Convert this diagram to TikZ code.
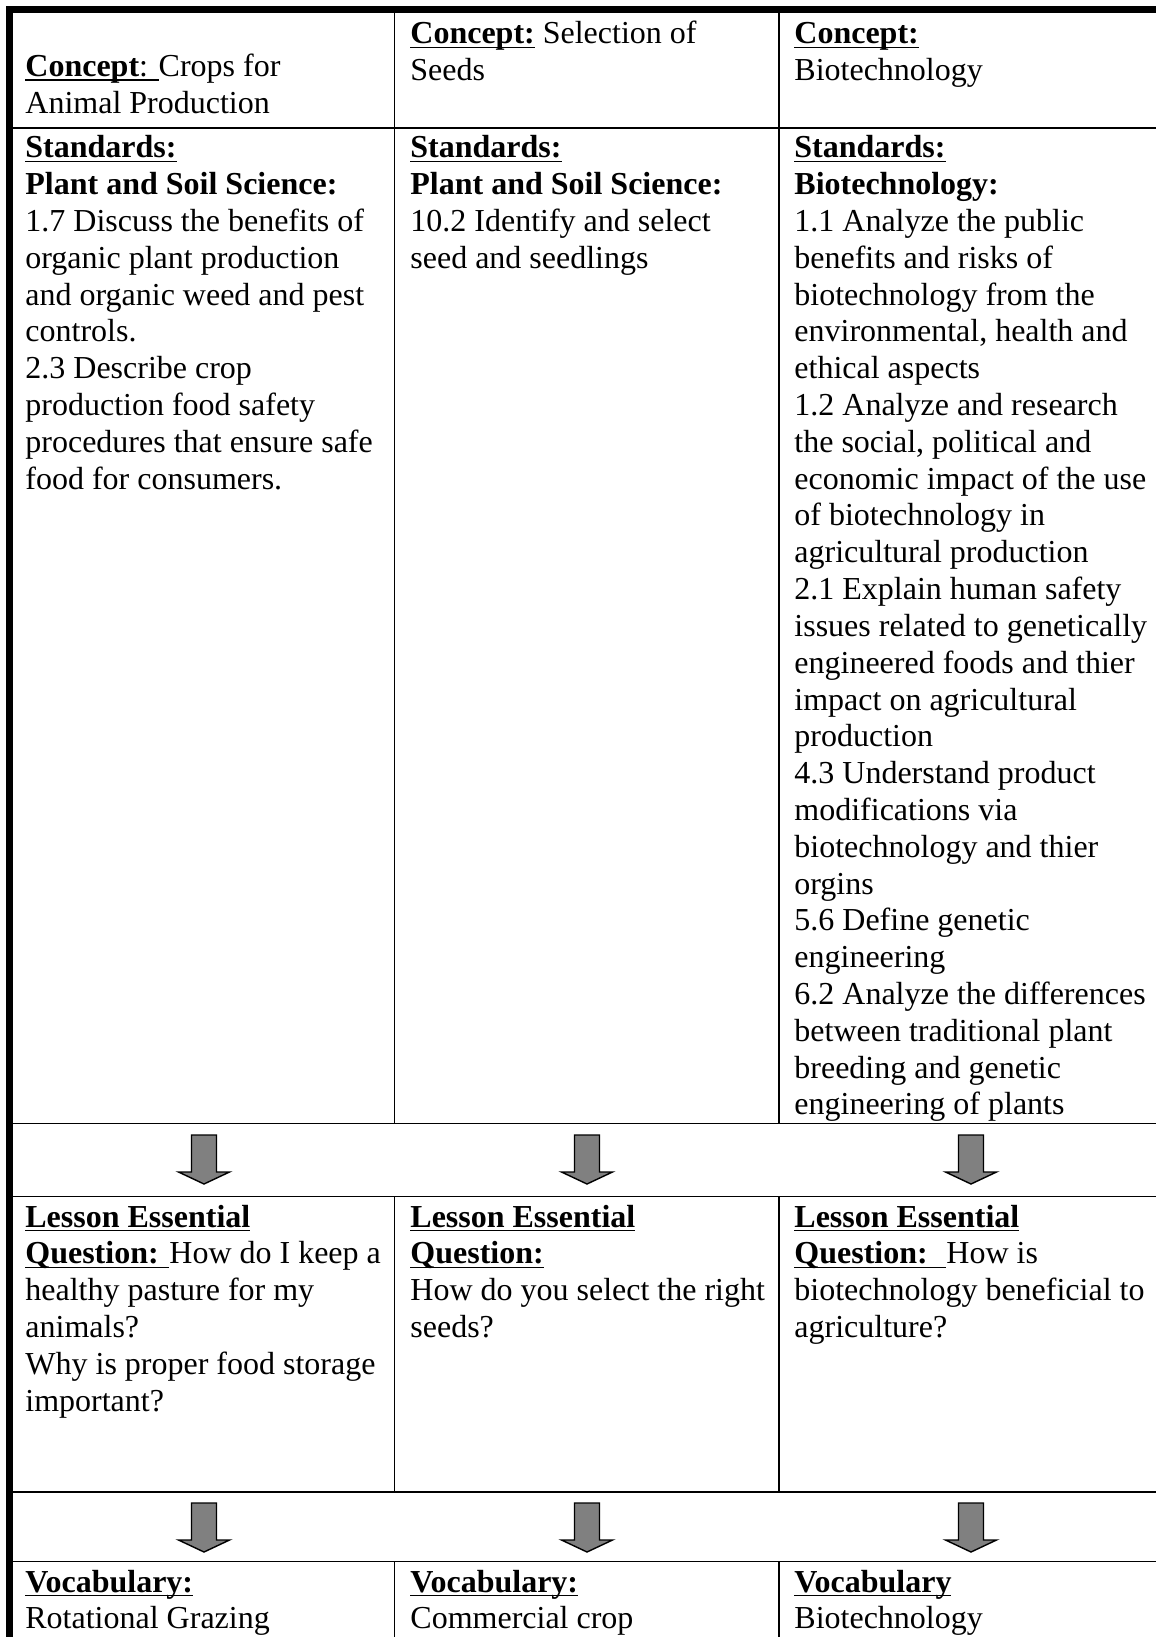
\documentclass[tikz,border=0pt]{standalone}
\usepackage{fontspec}
\setmainfont{Liberation Serif}
\newsavebox\undlbox
\newcommand\undl[1]{\sbox\undlbox{#1}\rlap{\rule[-2.2pt]{\wd\undlbox}{0.85pt}}\usebox\undlbox}
\newcommand\celltext[1]{\begin{tabular}[t]{@{}l@{}}#1\end{tabular}}
\begin{document}
\begin{tikzpicture}[x=0.5pt, y=-0.5pt,
    cell/.style={
        anchor=base west,
        inner sep=0pt,
        font=\fontsize{16}{18.4}\selectfont
    },
    gridline/.style={line width=0.85pt},
    blockarrow/.style={
        draw=black,
        line width=0.7pt,
        fill=gray,
        line join=miter
    }
]

% --- Page and frame ---
\fill[white] (0,0) rectangle (1156,1637);
\useasboundingbox (0,0) rectangle (1156,1637);
\fill[black] (6,6) rectangle (13,1637);
\fill[black] (6,6) rectangle (1156,13);

%%%%%%%%%%%%%%%%%%%%%%%%
% Grid
%%%%%%%%%%%%%%%%%%%%%%%%

\foreach \ry in {128,1123.5,1196.5,1492,1561.5}
    \draw[gridline] (13,\ry) -- (1156,\ry);
\foreach \cx in {394.5,779} {
    \draw[gridline] (\cx,13) -- (\cx,1123.5);
    \draw[gridline] (\cx,1196.5) -- (\cx,1492);
    \draw[gridline] (\cx,1561.5) -- (\cx,1637);
}

%%%%%%%%%%%%%%%%%%%%%%%%
% Concepts
%%%%%%%%%%%%%%%%%%%%%%%%

\node[cell] (con1) at (25,76.5) {\celltext{\undl{\textbf{Concept}: }Crops for\\Animal Production}};
\node[cell] (con2) at (410,44) {\celltext{\undl{\textbf{Concept:}} Selection of\\Seeds}};
\node[cell] (con3) at (794,44) {\celltext{\undl{\textbf{Concept:}}\\Biotechnology}};

%%%%%%%%%%%%%%%%%%%%%%%%
% Standards
%%%%%%%%%%%%%%%%%%%%%%%%

\node[cell] (std1) at (25,158) {\celltext{\undl{\textbf{Standards:}}\\
    \textbf{Plant and Soil Science:}\\
    1.7 Discuss the benefits of\\
    organic plant production\\
    and organic weed and pest\\
    controls.\\
    2.3 Describe crop\\
    production food safety\\
    procedures that ensure safe\\
    food for consumers.}};
\node[cell] (std2) at (410,158) {\celltext{\undl{\textbf{Standards:}}\\
    \textbf{Plant and Soil Science:}\\
    10.2 Identify and select\\
    seed and seedlings}};
\node[cell] (std3) at (794,158) {\celltext{\undl{\textbf{Standards:}}\\
    \textbf{Biotechnology:}\\
    1.1 Analyze the public\\
    benefits and risks of\\
    biotechnology from the\\
    environmental, health and\\
    ethical aspects\\
    1.2 Analyze and research\\
    the social, political and\\
    economic impact of the use\\
    of biotechnology in\\
    agricultural production\\
    2.1 Explain human safety\\
    issues related to genetically\\
    engineered foods and thier\\
    impact on agricultural\\
    production\\
    4.3 Understand product\\
    modifications via\\
    biotechnology and thier\\
    orgins\\
    5.6 Define genetic\\
    engineering\\
    6.2 Analyze the differences\\
    between traditional plant\\
    breeding and genetic\\
    engineering of plants}};

%%%%%%%%%%%%%%%%%%%%%%%%
% Arrows
%%%%%%%%%%%%%%%%%%%%%%%%

\foreach \cx in {204,587,971} {
    \foreach \ay in {1135,1503} {
        \draw[blockarrow] (\cx-12.5,\ay) -- (\cx+12.5,\ay) -- (\cx+12.5,\ay+37)
            -- (\cx+25.5,\ay+37) -- (\cx,\ay+49) -- (\cx-25.5,\ay+37)
            -- (\cx-12.5,\ay+37) -- cycle;
    }
}

%%%%%%%%%%%%%%%%%%%%%%%%
% Lesson Essential Questions
%%%%%%%%%%%%%%%%%%%%%%%%

\node[cell] (leq1) at (25,1227) {\celltext{\undl{\textbf{Lesson Essential}}\\
    \undl{\textbf{Question:} }How do I keep a\\
    healthy pasture for my\\
    animals?\\
    Why is proper food storage\\
    important?}};
\node[cell] (leq2) at (410,1227) {\celltext{\undl{\textbf{Lesson Essential}}\\
    \undl{\textbf{Question:}}\\
    How do you select the right\\
    seeds?}};
\node[cell] (leq3) at (794,1227) {\celltext{\undl{\textbf{Lesson Essential}}\\
    \undl{\textbf{Question:}~ }How is\\
    biotechnology beneficial to\\
    agriculture?}};

%%%%%%%%%%%%%%%%%%%%%%%%
% Vocabulary
%%%%%%%%%%%%%%%%%%%%%%%%

\node[cell] (voc1) at (25,1592) {\celltext{\undl{\textbf{Vocabulary:}}\\Rotational Grazing}};
\node[cell] (voc2) at (410,1592) {\celltext{\undl{\textbf{Vocabulary:}}\\Commercial crop}};
\node[cell] (voc3) at (794,1592) {\celltext{\undl{\textbf{Vocabulary}}\\Biotechnology}};

\end{tikzpicture}
\end{document}
